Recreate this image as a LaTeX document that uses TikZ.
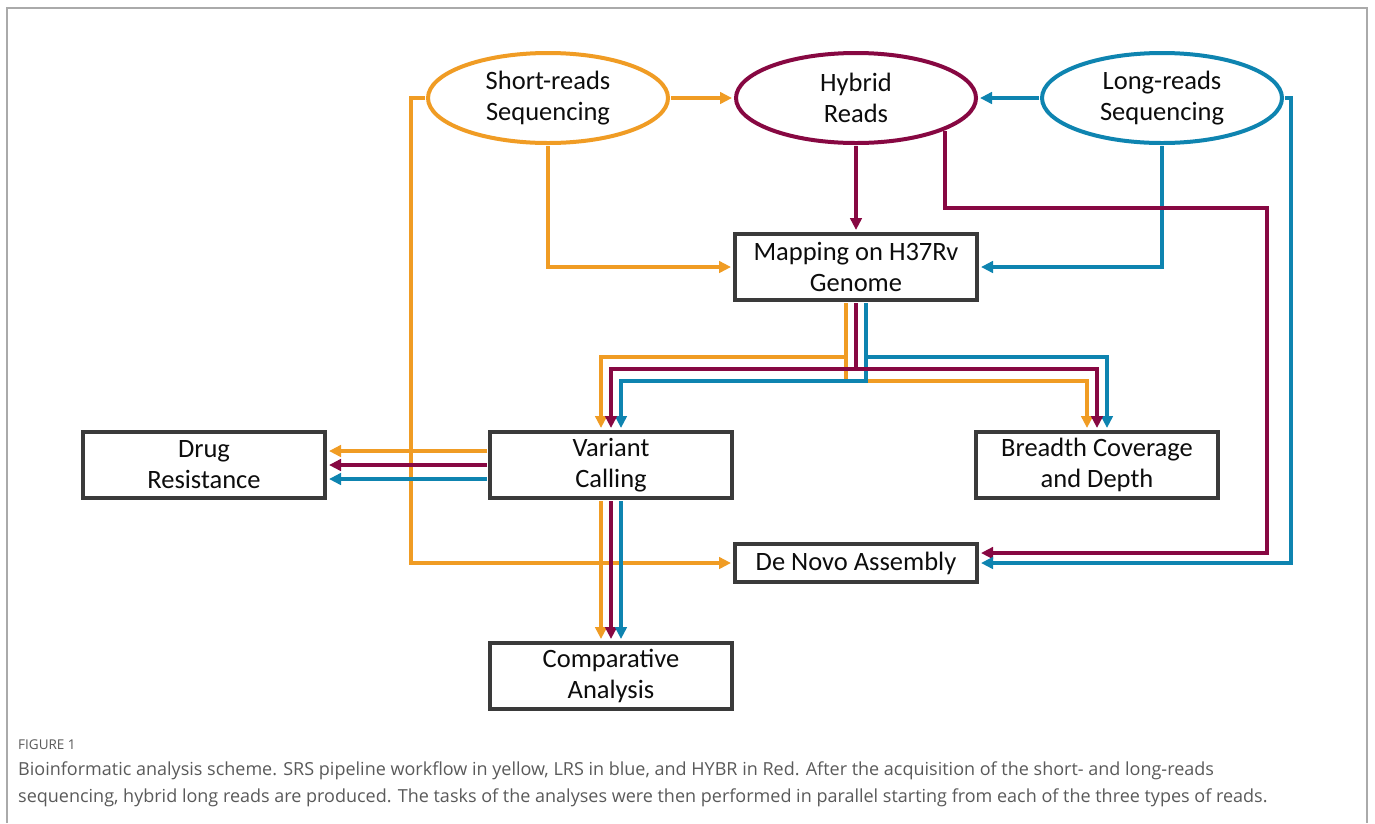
\documentclass[tikz,border=0pt]{standalone}
\usepackage{fontspec}
\setmainfont{Carlito}
\newfontfamily\capfont{Open Sans}
\usetikzlibrary{arrows.meta,shapes.geometric}
\definecolor{cor}{RGB}{240,156,36}
\definecolor{cred}{RGB}{135,8,66}
\definecolor{cblue}{RGB}{14,132,176}
\definecolor{cbox}{RGB}{58,58,58}
\definecolor{cframe}{RGB}{170,170,170}
\definecolor{ccap}{RGB}{90,90,90}
\pgfdeclarelayer{bg}
\pgfsetlayers{bg,main}
\begin{document}
\begin{tikzpicture}[x=1pt,y=-1pt,
  txt/.style={font=\fontsize{26.5}{31}\selectfont, align=center, text=black!95},
  proc/.style={txt, draw=cbox, fill=white, line width=4pt, rectangle, minimum width=242pt, minimum height=66pt, inner sep=0pt},
  seq/.style={txt, ellipse, fill=white, line width=4pt, minimum width=240pt, minimum height=90pt, inner sep=0pt},
  conn/.style={line width=4pt, -{Triangle[length=12pt,width=11.5pt]}, shorten >=2pt, shorten <=1pt},
  co/.style={conn, draw=cor},
  cr/.style={conn, draw=cred},
  cb/.style={conn, draw=cblue},
  capt/.style={anchor=west, inner sep=0pt, text=ccap, font=\capfont\fontsize{18}{22}\selectfont}
]
\useasboundingbox (0,0) rectangle (1375,823);

% ellipses
\node[seq, draw=cor]   (short) at (548,98)  {Short-reads\\Sequencing};
\node[seq, draw=cred]  (hyb)   at (856,98)  {Hybrid\\Reads};
\node[seq, draw=cblue] (long)  at (1162,98) {Long-reads\\Sequencing};

% boxes
\node[proc] (map)     at (856,267)  {Mapping on H37Rv\\Genome};
\node[proc] (drug)    at (204,465)  {Drug\\Resistance};
\node[proc] (var)     at (611,465)  {Variant\\Calling};
\node[proc] (breadth) at (1097,465) {Breadth Coverage\\and Depth};
\node[proc, minimum height=38pt] (denovo) at (856,563) {De Novo Assembly};
\node[proc] (comp)    at (611,676)  {Comparative\\Analysis};

\coordinate (hk) at (1267,208);

\begin{pgfonlayer}{bg}
\fill[white] (0,0) rectangle (1375,823);
\draw[cframe, line width=1.5pt] (7,823) -- (7,8) -- (1367,8) -- (1367,823);
% top row
\draw[co] (short.east) -- (hyb.west);
\draw[cb] (long.west) -- (hyb.east);
\draw[cr] (hyb.south) -- (map.north);
\draw[co] (short.south) |- (map.west);
\draw[cb] (long.south) |- (map.east);
% to de novo
\draw[co] (short.west) -- ++(-15,0) |- (denovo.west);
\draw[cr] (hyb.-20) |- (hk) |- ([yshift=10pt]denovo.east);
\draw[cb] (long.east) -- ++(7,0) |- (denovo.east);
% mapping -> variant / breadth
\draw[co] ([xshift=-10pt]map.south) -- ++(0,55) -| ([xshift=-10pt]var.north);
\draw[co] ([xshift=-10pt]map.south) -- ++(0,79) -| ([xshift=-10pt]breadth.north);
\draw[cb] ([xshift=10pt]map.south) -- ++(0,55) -| ([xshift=10pt]breadth.north);
\draw[cb] ([xshift=10pt]map.south) -- ++(0,79) -| ([xshift=10pt]var.north);
\draw[cr] (map.south) -- ++(0,67) -| (var.north);
\draw[cr] (map.south) -- ++(0,67) -| (breadth.north);
% variant -> drug
\draw[co] ([yshift=14pt]var.west) -- ([yshift=14pt]drug.east);
\draw[cr] (var.west) -- (drug.east);
\draw[cb] ([yshift=-14pt]var.west) -- ([yshift=-14pt]drug.east);
% variant -> comparative
\draw[co] ([xshift=-10pt]var.south) -- ([xshift=-10pt]comp.north);
\draw[cr] (var.south) -- (comp.north);
\draw[cb] ([xshift=10pt]var.south) -- ([xshift=10pt]comp.north);
\end{pgfonlayer}

% caption
\node[capt, font=\capfont\fontsize{13.5}{16}\selectfont] (cap0) at (18,745) {FIGURE 1};
\node[capt] (cap1) at (18,771) {Bioinformatic analysis scheme. SRS pipeline workflow in yellow, LRS in blue, and HYBR in Red. After the acquisition of the short- and long-reads};
\node[capt] (cap2) at (18,798) {sequencing, hybrid long reads are produced. The tasks of the analyses were then performed in parallel starting from each of the three types of reads.};
\end{tikzpicture}
\end{document}
